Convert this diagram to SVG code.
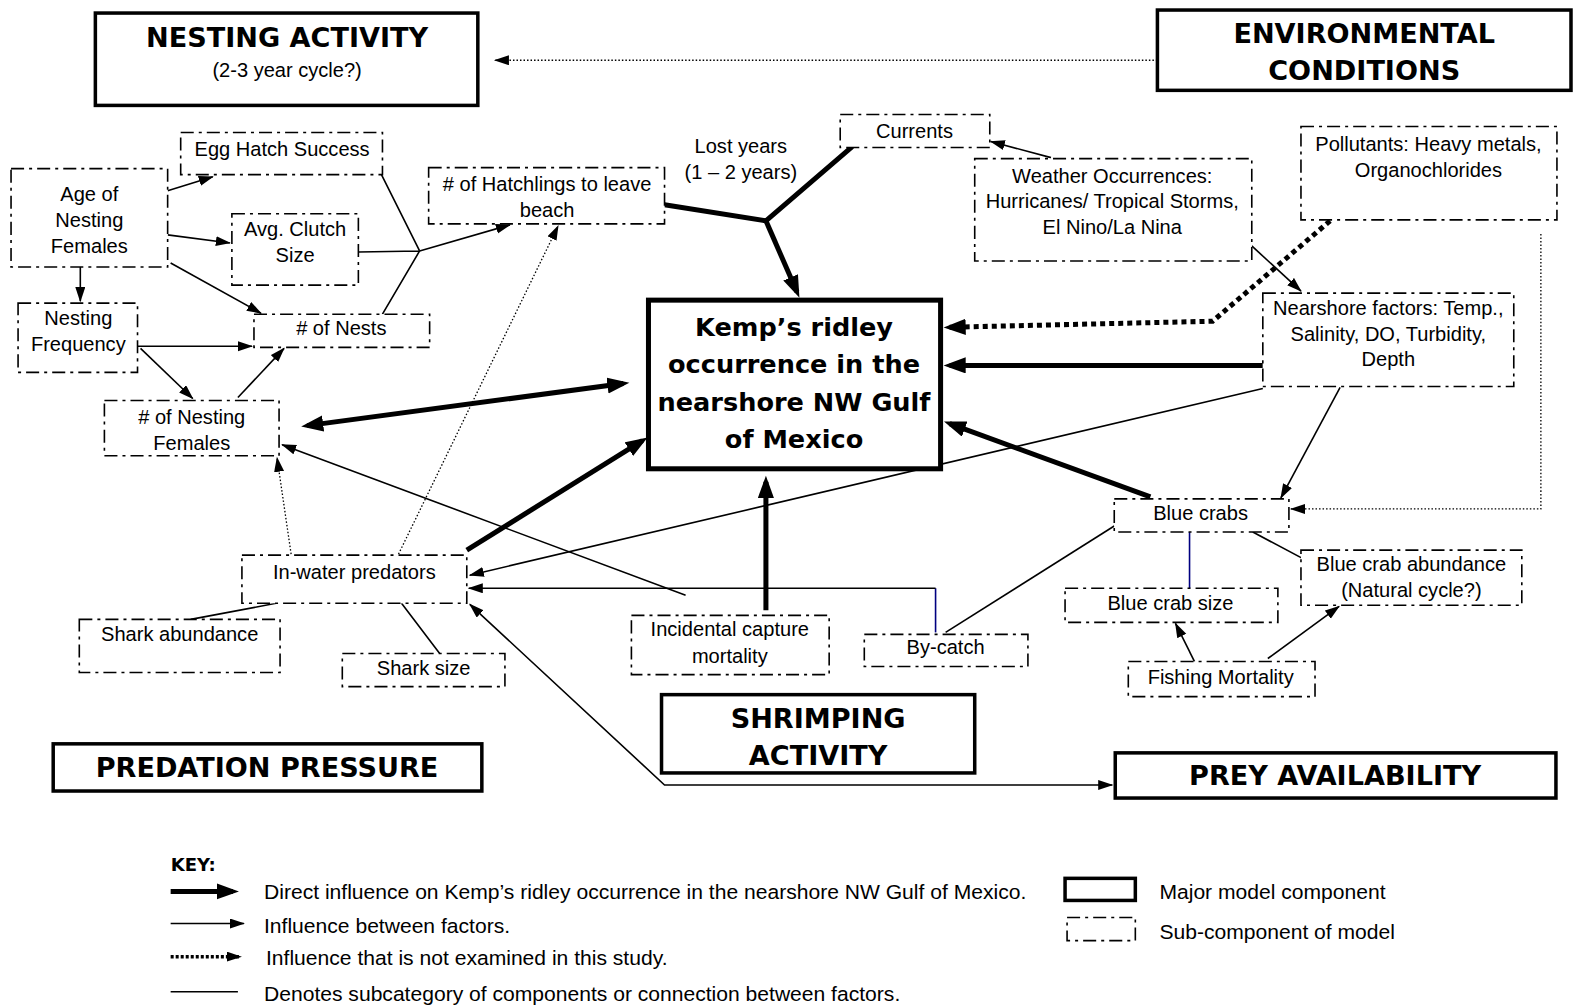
<svg xmlns="http://www.w3.org/2000/svg" width="1574" height="1008" viewBox="0 0 1574 1008">
<style>
.bg{fill:#fff}
.major{fill:#fff;stroke:#000;stroke-width:3.5}
.sub{fill:#fff;stroke:#000;stroke-width:1.6;stroke-dasharray:13 5 3 5}
.t{font-family:"Liberation Sans",Arial,sans-serif;font-size:20px;fill:#000;text-anchor:middle}
.tb{font-family:"DejaVu Sans",Verdana,sans-serif;font-weight:bold;font-size:27px;fill:#000;text-anchor:middle}
.tk{font-family:"DejaVu Sans",Verdana,sans-serif;font-weight:bold;font-size:25.5px;fill:#000;text-anchor:middle}
.k{font-family:"Liberation Sans",Arial,sans-serif;font-size:21px;fill:#000}
.kb{font-family:"DejaVu Sans",Verdana,sans-serif;font-weight:bold;font-size:18px;fill:#000}
.thin{fill:none;stroke:#000;stroke-width:1.6}
.navy{fill:none;stroke:#000080;stroke-width:1.6}
.dot{fill:none;stroke:#000;stroke-width:1.3;stroke-dasharray:1.5 2}
.thick{fill:none;stroke:#000;stroke-width:5}
.thickdot{fill:none;stroke:#000;stroke-width:5;stroke-dasharray:5 4}
</style>
<defs>
<marker id="ah" markerUnits="userSpaceOnUse" markerWidth="16" markerHeight="12" refX="14" refY="5" orient="auto-start-reverse"><path d="M0,0 L15,5 L0,10 z" fill="#000"/></marker>
<marker id="ahT" markerUnits="userSpaceOnUse" markerWidth="24" markerHeight="18" refX="16" refY="8" orient="auto-start-reverse"><path d="M0,0 L22,8 L0,16 z" fill="#000"/></marker>
</defs>
<rect class="bg" x="0" y="0" width="1574" height="1008"/>
<g transform="scale(1.00383)">
<g id="connectors">
<path class="thin" d="M167,190 L212,176" marker-end="url(#ah)"/>
<path class="thin" d="M167,234 L229,242" marker-end="url(#ah)"/>
<path class="thin" d="M170,262 L260,312" marker-end="url(#ah)"/>
<path class="thin" d="M80,266 L80,300" marker-end="url(#ah)"/>
<path class="thin" d="M137,345 L251,345" marker-end="url(#ah)"/>
<path class="thin" d="M140,347 L192,397" marker-end="url(#ah)"/>
<path class="thin" d="M237,396 L283,347" marker-end="url(#ah)"/>
<path class="thin" d="M380,174 L418,250 M357,251 L418,250 M381,313 L418,250"/>
<path class="thin" d="M418,250 L508,224" marker-end="url(#ah)"/>
<path class="thin" d="M1047,157 L987,141" marker-end="url(#ah)"/>
<path class="thin" d="M1247,245 L1296,290" marker-end="url(#ah)"/>
<path class="thin" d="M1335,386 L1276,496" marker-end="url(#ah)"/>
<path class="thin" d="M1258,387 L468,573" marker-end="url(#ah)"/>
<path class="navy" d="M932,630 L932,586"/>
<path class="thin" d="M932,586 L467,586" marker-end="url(#ah)"/>
<path class="thin" d="M942,630 L1110,524"/>
<path class="thin" d="M683,593 L281,443" marker-end="url(#ah)"/>
<path class="navy" d="M1185,530 L1185,586"/>
<path class="thin" d="M1248,530 L1297,556"/>
<path class="thin" d="M1190,659 L1171,621" marker-end="url(#ah)"/>
<path class="thin" d="M1263,656 L1334,604" marker-end="url(#ah)"/>
<path class="thin" d="M468,602 L662,782 L1108,782" marker-start="url(#ah)" marker-end="url(#ah)"/>
<path class="thin" d="M190,617 L275,601 M400,601 L438,651"/>
<path class="dot" d="M1153,60 L493,60" marker-end="url(#ah)"/>
<path class="dot" d="M1535,233 L1535,507 L1286,507" marker-end="url(#ah)"/>
<path class="dot" d="M397,552 L556,225" marker-end="url(#ah)"/>
<path class="dot" d="M290,552 L276,456" marker-end="url(#ah)"/>
<path class="thick" d="M662,204 L763,220 L849,146"/>
<path class="thick" d="M763,220 L794,291" marker-end="url(#ahT)"/>
<path class="thick" d="M306,424 L621,382" marker-start="url(#ahT)" marker-end="url(#ahT)"/>
<path class="thick" d="M465,548 L640,439" marker-end="url(#ahT)"/>
<path class="thick" d="M763,608 L763,480" marker-end="url(#ahT)"/>
<path class="thick" d="M1258,364 L946,364" marker-end="url(#ahT)"/>
<path class="thick" d="M1146,495 L946,422" marker-end="url(#ahT)"/>
<path class="thickdot" d="M1325,220 L1208,320 L946,326" marker-end="url(#ahT)"/>
</g>
<g id="nesting-activity"><rect class="major" x="95" y="13" width="381" height="92"/><text class="tb" x="286" y="47">NESTING ACTIVITY</text><text class="t" x="286" y="77">(2-3 year cycle?)</text></g>
<g id="environmental-conditions"><rect class="major" x="1153" y="10" width="412" height="80"/><text class="tb" x="1359" y="43">ENVIRONMENTAL</text><text class="tb" x="1359" y="80">CONDITIONS</text></g>
<g id="kemps"><rect fill="#fff" stroke="#000" stroke-width="5" x="646" y="299" width="291" height="168"/><text class="tk" x="791" y="335">Kemp’s ridley</text><text class="tk" x="791" y="372">occurrence in the</text><text class="tk" x="791" y="409">nearshore NW Gulf</text><text class="tk" x="791" y="446">of Mexico</text></g>
<g id="shrimping-activity"><rect class="major" x="659" y="692" width="312" height="78"/><text class="tb" x="815" y="725">SHRIMPING</text><text class="tb" x="815" y="762">ACTIVITY</text></g>
<g id="predation-pressure"><rect class="major" x="53" y="741" width="427" height="47"/><text class="tb" x="266" y="774">PREDATION PRESSURE</text></g>
<g id="prey-availability"><rect class="major" x="1111" y="750" width="439" height="45"/><text class="tb" x="1330" y="782">PREY AVAILABILITY</text></g>
<g id="egg-hatch"><rect class="sub" x="180" y="132" width="201" height="42"/><text class="t" x="281" y="155">Egg Hatch Success</text></g>
<g id="age-nesting"><rect class="sub" x="11" y="168" width="156" height="98"/><text class="t" x="89" y="200">Age of</text><text class="t" x="89" y="226">Nesting</text><text class="t" x="89" y="252">Females</text></g>
<g id="clutch"><rect class="sub" x="231" y="213" width="126" height="71"/><text class="t" x="294" y="235">Avg. Clutch</text><text class="t" x="294" y="261">Size</text></g>
<g id="hatchlings"><rect class="sub" x="427" y="167" width="235" height="56"/><text class="t" x="545" y="190"># of Hatchlings to leave</text><text class="t" x="545" y="216">beach</text></g>
<g id="nesting-frequency"><rect class="sub" x="18" y="302" width="119" height="69"/><text class="t" x="78" y="324">Nesting</text><text class="t" x="78" y="350">Frequency</text></g>
<g id="nests"><rect class="sub" x="253" y="313" width="175" height="33"/><text class="t" x="340" y="334"># of Nests</text></g>
<g id="nesting-females"><rect class="sub" x="104" y="399" width="174" height="55"/><text class="t" x="191" y="422"># of Nesting</text><text class="t" x="191" y="448">Females</text></g>
<g id="lost-years"><text class="t" x="738" y="152">Lost years</text><text class="t" x="738" y="178">(1 – 2 years)</text></g>
<g id="currents"><rect class="sub" x="837" y="114" width="149" height="33"/><text class="t" x="911" y="137">Currents</text></g>
<g id="weather"><rect class="sub" x="971" y="158" width="276" height="102"/><text class="t" x="1108" y="182">Weather Occurrences:</text><text class="t" x="1108" y="207">Hurricanes/ Tropical Storms,</text><text class="t" x="1108" y="233">El Nino/La Nina</text></g>
<g id="pollutants"><rect class="sub" x="1296" y="126" width="255" height="93"/><text class="t" x="1423" y="150">Pollutants: Heavy metals,</text><text class="t" x="1423" y="176">Organochlorides</text></g>
<g id="nearshore"><rect class="sub" x="1258" y="292" width="250" height="93"/><text class="t" x="1383" y="314">Nearshore factors: Temp.,</text><text class="t" x="1383" y="340">Salinity, DO, Turbidity,</text><text class="t" x="1383" y="365">Depth</text></g>
<g id="blue-crabs"><rect class="sub" x="1110" y="497" width="174" height="33"/><text class="t" x="1196" y="518">Blue crabs</text></g>
<g id="blue-crab-abundance"><rect class="sub" x="1296" y="548" width="220" height="55"/><text class="t" x="1406" y="569">Blue crab abundance</text><text class="t" x="1406" y="595">(Natural cycle?)</text></g>
<g id="blue-crab-size"><rect class="sub" x="1061" y="586" width="212" height="34"/><text class="t" x="1166" y="608">Blue crab size</text></g>
<g id="fishing-mortality"><rect class="sub" x="1124" y="659" width="186" height="35"/><text class="t" x="1216" y="681">Fishing Mortality</text></g>
<g id="in-water-predators"><rect class="sub" x="241" y="553" width="224" height="48"/><text class="t" x="353" y="577">In-water predators</text></g>
<g id="shark-abundance"><rect class="sub" x="79" y="617" width="200" height="53"/><text class="t" x="179" y="639">Shark abundance</text></g>
<g id="shark-size"><rect class="sub" x="341" y="651" width="162" height="33"/><text class="t" x="422" y="672">Shark size</text></g>
<g id="incidental-capture"><rect class="sub" x="629" y="613" width="197" height="59"/><text class="t" x="727" y="634">Incidental capture</text><text class="t" x="727" y="660">mortality</text></g>
<g id="by-catch"><rect class="sub" x="861" y="632" width="163" height="32"/><text class="t" x="942" y="652">By-catch</text></g>
<g id="key">
<text class="kb" x="170" y="868">KEY:</text>
<path class="thick" d="M170,888 L232,888" marker-end="url(#ahT)"/>
<text class="k" x="263" y="896">Direct influence on Kemp’s ridley occurrence in the nearshore NW Gulf of Mexico.</text>
<path class="thin" d="M170,920 L243,920" marker-end="url(#ah)"/>
<text class="k" x="263" y="929">Influence between factors.</text>
<path d="M170,953 L240,953" fill="none" stroke="#000" stroke-width="3.5" stroke-dasharray="3 2" marker-end="url(#ah)"/>
<text class="k" x="265" y="961">Influence that is not examined in this study.</text>
<path class="thin" d="M170,988 L237,988"/>
<text class="k" x="263" y="997">Denotes subcategory of components or connection between factors.</text>
<rect class="major" x="1061" y="875" width="70" height="22"/>
<text class="k" x="1155" y="896">Major model component</text>
<rect class="sub" x="1063" y="914" width="68" height="23"/>
<text class="k" x="1155" y="935">Sub-component of model</text>
</g>
</g>
</svg>
